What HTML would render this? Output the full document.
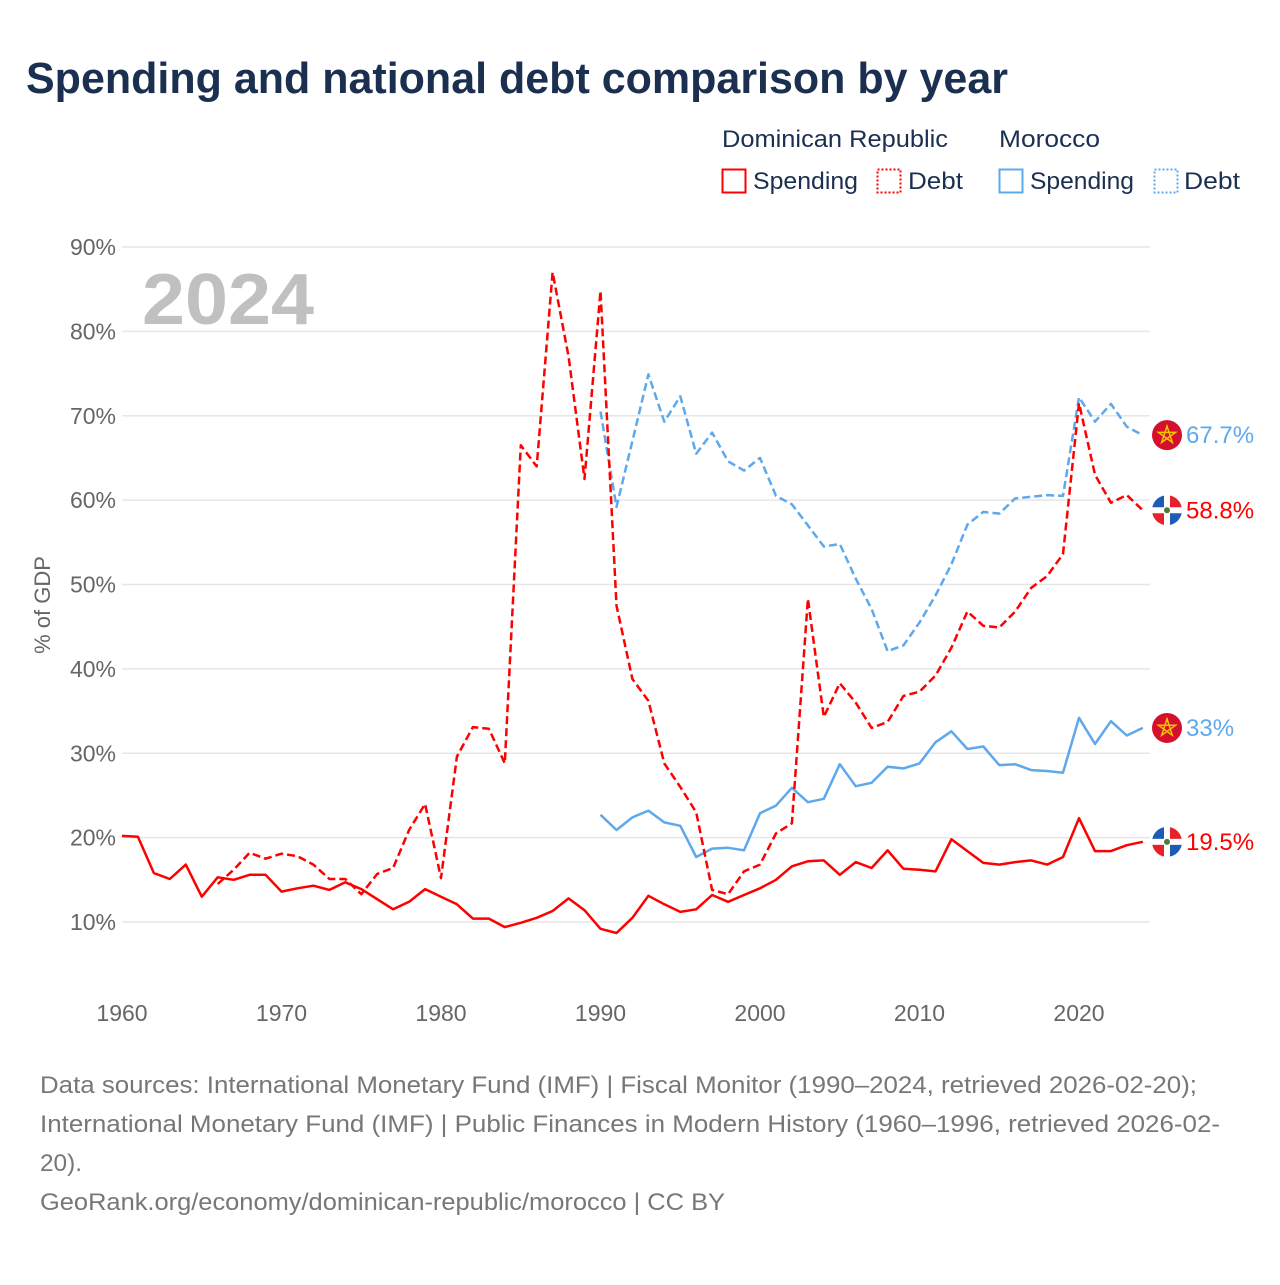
<!DOCTYPE html>
<html><head><meta charset="utf-8"><style>
body{margin:0;background:#fff;width:1280px;height:1280px;overflow:hidden;font-family:"Liberation Sans",sans-serif}
</style></head><body>
<svg id="chart" width="1280" height="1280" xmlns="http://www.w3.org/2000/svg" font-family="Liberation Sans, sans-serif">
<text x="26" y="93" font-size="44" font-weight="bold" fill="#1b3050" textLength="982" lengthAdjust="spacingAndGlyphs">Spending and national debt comparison by year</text>
<g font-size="24" fill="#1b3050">
<text x="722" y="147" textLength="226" lengthAdjust="spacingAndGlyphs">Dominican Republic</text>
<text x="999" y="147" textLength="101" lengthAdjust="spacingAndGlyphs">Morocco</text>
<g><rect x="722.5" y="169.5" width="23" height="23" fill="none" stroke="#f00" stroke-width="2"/><text x="753" y="189" textLength="105" lengthAdjust="spacingAndGlyphs">Spending</text></g>
<g><rect x="877.5" y="169.5" width="23" height="23" fill="none" stroke="#f00" stroke-width="2" stroke-dasharray="2,2"/><text x="908" y="189" textLength="55" lengthAdjust="spacingAndGlyphs">Debt</text></g>
<g><rect x="999.5" y="169.5" width="23" height="23" fill="none" stroke="#5ea8ec" stroke-width="2"/><text x="1030" y="189" textLength="104" lengthAdjust="spacingAndGlyphs">Spending</text></g>
<g><rect x="1154.5" y="169.5" width="23" height="23" fill="none" stroke="#5ea8ec" stroke-width="2" stroke-dasharray="2,2"/><text x="1184" y="189" textLength="56" lengthAdjust="spacingAndGlyphs">Debt</text></g>
</g>
<g id="grid"></g>
<text x="142" y="324" font-size="72" font-weight="bold" fill="#c0c0c0" textLength="172" lengthAdjust="spacingAndGlyphs">2024</text>
<text transform="translate(50,605) rotate(-90)" text-anchor="middle" font-size="22" fill="#666">% of GDP</text>
<g id="series"></g>
<g id="labels"></g>
<g font-size="24" fill="#777">
<text x="40" y="1093" textLength="1157" lengthAdjust="spacingAndGlyphs">Data sources: International Monetary Fund (IMF) | Fiscal Monitor (1990–2024, retrieved 2026-02-20);</text>
<text x="40" y="1132" textLength="1180" lengthAdjust="spacingAndGlyphs">International Monetary Fund (IMF) | Public Finances in Modern History (1960–1996, retrieved 2026-02-</text>
<text x="40" y="1171" textLength="42" lengthAdjust="spacingAndGlyphs">20).</text>
<text x="40" y="1210" textLength="685" lengthAdjust="spacingAndGlyphs">GeoRank.org/economy/dominican-republic/morocco | CC BY</text>
</g>
</svg>
<script>
const yTicks=[10,20,30,40,50,60,70,80,90];
const xTicks=[1960,1970,1980,1990,2000,2010,2020];
const drSpendStart=1960;
const drSpending=[20.2,20.1,15.8,15.1,16.8,13.0,15.3,15.0,15.6,15.6,13.6,14.0,14.3,13.8,14.7,13.9,12.7,11.5,12.4,13.9,13.0,12.1,10.4,10.4,9.4,9.9,10.5,11.3,12.8,11.4,9.2,8.7,10.5,13.1,12.1,11.2,11.5,13.2,12.4,13.2,14.0,15.0,16.6,17.2,17.3,15.6,17.1,16.4,18.5,16.3,16.2,16.0,19.8,18.4,17.0,16.8,17.1,17.3,16.8,17.7,22.3,18.4,18.4,19.1,19.5];
const drDebtStart=1966;
const drDebt=[14.5,16.2,18.2,17.5,18.1,17.8,16.8,15.1,15.1,13.3,15.7,16.4,20.9,24.0,15.2,29.6,33.1,32.9,28.8,66.5,64.0,87.0,77.0,62.5,84.8,47.5,38.8,36.2,28.8,26.0,23.0,13.8,13.3,16.0,16.8,20.5,21.7,48.3,34.3,38.3,36.0,33.0,33.7,36.8,37.3,39.2,42.5,46.8,45.1,44.9,46.8,49.6,51.0,53.6,71.5,63.0,59.7,60.6,58.8];
const maStart=1990;
const maSpending=[22.7,20.9,22.4,23.2,21.8,21.4,17.7,18.7,18.8,18.5,22.9,23.8,25.9,24.2,24.6,28.7,26.1,26.5,28.4,28.2,28.8,31.3,32.6,30.5,30.8,28.6,28.7,28.0,27.9,27.7,34.2,31.1,33.8,32.1,33.0];
const maDebt=[70.5,59.2,67.0,74.9,69.3,72.3,65.5,68.0,64.6,63.5,65.0,60.5,59.5,57.0,54.5,54.8,50.7,47.1,42.1,42.8,45.5,48.7,52.4,57.1,58.6,58.4,60.2,60.4,60.6,60.5,72.2,69.3,71.4,68.7,67.7];

const NS="http://www.w3.org/2000/svg";
const X=y=>122+(y-1960)*(1079-122)/60;
const Y=v=>922-(v-10)*(922-247)/80;
function mk(t,a,p){const e=document.createElementNS(NS,t);for(const k in a)e.setAttribute(k,a[k]);p.appendChild(e);return e;}
const grid=document.getElementById('grid');
yTicks.forEach(v=>{
  const l=mk('line',{x1:122,x2:1150,y1:Y(v),y2:Y(v),stroke:'#e6e6e6','stroke-width':1.5},grid);
  
  
  const t=mk('text',{x:116,y:Y(v)+8,'text-anchor':'end','font-size':23,fill:'#666'},grid);
  t.textContent=v+'%';
  
  
});
xTicks.forEach(v=>{
  const t=mk('text',{x:X(v),y:1021,'text-anchor':'middle','font-size':23,fill:'#666'},grid);
  t.textContent=v;
  
  
});
const ser=document.getElementById('series');
function line(arr,start,color,dash,name){
  const d=arr.map((v,i)=>(i?'L':'M')+X(start+i).toFixed(1)+','+Y(v).toFixed(1)).join('');
  const p=mk('path',{d:d,fill:'none',stroke:color,'stroke-width':2.5,'stroke-linejoin':'round'},ser);
  if(dash)p.setAttribute('stroke-dasharray','8,4');
  
  
}
line(maDebt,maStart,'#5ea8ec',true,'morocco-debt-line');
line(maSpending,maStart,'#5ea8ec',false,'morocco-spending-line');
line(drDebt,drDebtStart,'#f00',true,'dr-debt-line');
line(drSpending,drSpendStart,'#f00',false,'dr-spending-line');

const lab=document.getElementById('labels');
function flag(cy,type,val,color,name){
  const cx=1167;
  const g=mk('g',{},lab);
  
  
  if(type==='ma'){
    mk('circle',{cx:cx,cy:cy,r:15,fill:'#d4102d'},g);
    const pts=[];for(let i=0;i<5;i++){const a=-Math.PI/2+i*4*Math.PI/5;pts.push((cx+9*Math.cos(a)).toFixed(1)+','+(cy+9*Math.sin(a)).toFixed(1));}
    mk('polygon',{points:pts.join(' '),fill:'none',stroke:'#f5c400','stroke-width':1.5},g);
  }else{
    const id='c'+Math.round(cy);
    const cp=mk('clipPath',{id:id},g);mk('circle',{cx:cx,cy:cy,r:15},cp);
    const gg=mk('g',{'clip-path':'url(#'+id+')'},g);
    mk('rect',{x:cx-15,y:cy-15,width:30,height:30,fill:'#fff'},gg);
    mk('rect',{x:cx-15,y:cy-15,width:12,height:12,fill:'#1d5bb8'},gg);
    mk('rect',{x:cx+3,y:cy-15,width:12,height:12,fill:'#e8202a'},gg);
    mk('rect',{x:cx-15,y:cy+3,width:12,height:12,fill:'#e8202a'},gg);
    mk('rect',{x:cx+3,y:cy+3,width:12,height:12,fill:'#1d5bb8'},gg);
    mk('circle',{cx:cx,cy:cy,r:3,fill:'#4a7d3a'},gg);
  }
  const t=mk('text',{x:1186,y:cy+8,'font-size':24,fill:color},g);
  t.textContent=val;
}
flag(Y(maDebt[maDebt.length-1]),'ma',maDebt[maDebt.length-1]+'%','#5ea8ec','morocco-debt-end-label');
flag(Y(drDebt[drDebt.length-1]),'dr',drDebt[drDebt.length-1]+'%','#f00','dr-debt-end-label');
flag(Y(maSpending[maSpending.length-1]),'ma',maSpending[maSpending.length-1]+'%','#5ea8ec','morocco-spending-end-label');
flag(Y(drSpending[drSpending.length-1]),'dr',drSpending[drSpending.length-1]+'%','#f00','dr-spending-end-label');
</script>
</body></html>
